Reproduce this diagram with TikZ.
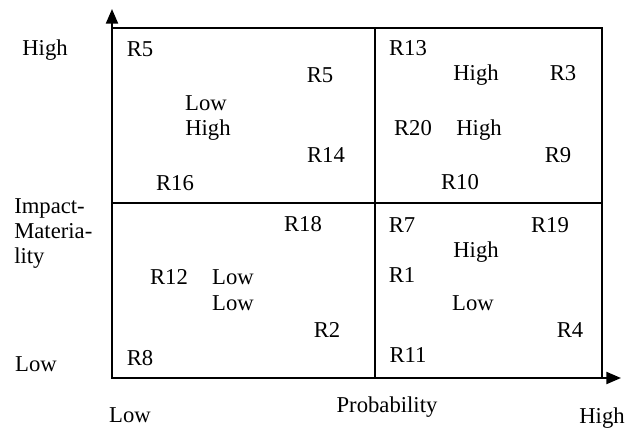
\documentclass[tikz,border=0pt]{standalone}
\usepackage{fontspec}
\setmainfont{Liberation Serif}
\usetikzlibrary{arrows.meta}

\begin{document}
\begin{tikzpicture}[x={(0.75pt,0)}, y={(0,-0.75pt)}]
  % Define styles
  \tikzstyle{lbl} = [inner sep=0pt, anchor=base, font=\fontsize{17}{20}\selectfont]
  \tikzstyle{axis} = [line width=1.6pt, -{Triangle[length=11pt,width=9pt]}]
  \tikzstyle{frame} = [line width=1.1pt]

  \useasboundingbox (0,0) rectangle (626,430);

  % The matrix
  \coordinate (origin) at (112,378);
  \coordinate (ytip) at (112,9);
  \coordinate (xtip) at (621,378);
  \draw[frame] (origin) rectangle (602,28);
  \draw[frame] (375,28) -- (375,378);
  \draw[frame] (112,203) -- (602,203);
  \draw[axis] (origin) -- (ytip);
  \draw[axis] (origin) -- (xtip);

  % Axis labels
  \node(yhigh)[lbl] at (45,55) {High};
  \node(ylow)[lbl] at (36,371) {Low};
  \node(yname)[lbl, anchor=north west, align=left, font=\fontsize{17}{18.75}\selectfont]
    at (14,198) {Impact-\\Materia-\\lity};
  \node(xlow)[lbl] at (130,422) {Low};
  \node(xname)[lbl] at (387,412) {Probability};
  \node(xhigh)[lbl] at (602,423) {High};

  % Risks and ratings
  \foreach \x/\y/\t [count=\i] in {
      140/49/R5, 320/75/R5, 206/103/Low, 208/128/High, 326/155/R14, 175/183/R16,
      408/48/R13, 476/73/High, 563/73/R3, 413/128/R20, 479/128/High, 558/155/R9, 460/182/R10,
      303/224/R18, 169/277/R12, 233/277/Low, 233/303/Low, 327/330/R2, 140/358/R8,
      402/225/R7, 550/225/R19, 476/250/High, 402/275/R1, 473/303/Low, 570/330/R4, 408/355/R11} {
    \node(risk\i)[lbl] at (\x,\y+7) {\t};
  }
\end{tikzpicture}
\end{document}
